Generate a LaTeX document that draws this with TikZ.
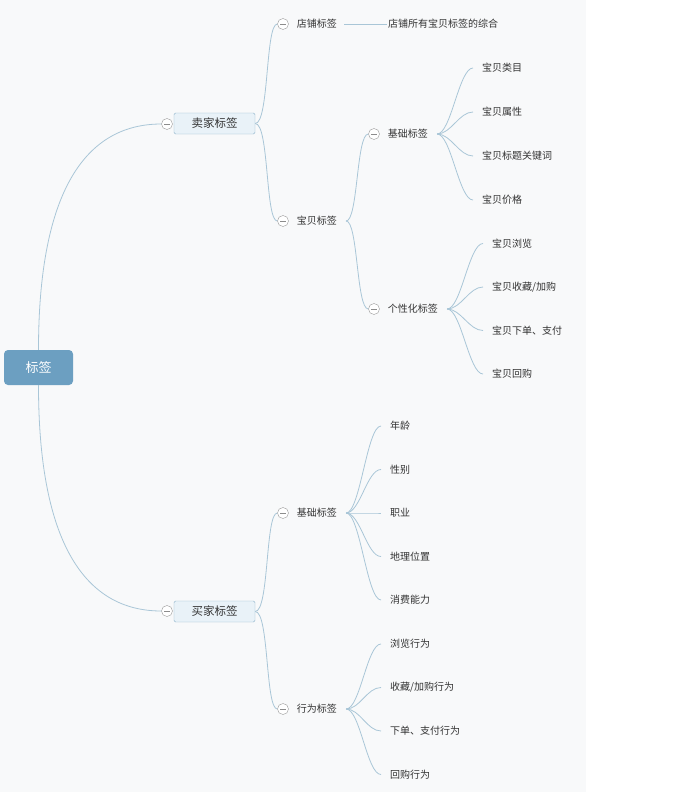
\documentclass[tikz,border=0pt]{standalone}
\usepackage{fontspec}
\setmainfont{Noto Sans CJK SC}
\usetikzlibrary{positioning}
\definecolor{linec}{HTML}{A9C6D7}
\definecolor{rootc}{HTML}{6C9FC1}
\definecolor{boxc}{HTML}{E9F2F8}
\definecolor{boxb}{HTML}{8FB4CB}
\definecolor{txtc}{HTML}{333333}
\definecolor{bgc}{HTML}{F8F9FA}

\begin{document}
\begin{tikzpicture}[x=1pt, y=-1pt,
    root/.style={fill=rootc, rounded corners=4pt, text=white, minimum width=69pt, minimum height=35pt, font=\fontsize{13}{15}\selectfont},
    main/.style={draw=boxb, fill=boxc, rounded corners=1.5pt, minimum width=81pt, minimum height=21pt, text=txtc, font=\fontsize{11.5}{13}\selectfont},
    sub/.style={text=txtc, anchor=west, inner sep=1pt, font=\fontsize{10}{12}\selectfont},
    leaf/.style={sub},
    fold/.style={draw=gray!80, fill=white, circle, minimum size=11pt, inner sep=0pt,
        path picture={\draw[gray!90] ([xshift=-3pt]path picture bounding box.center) -- ([xshift=3pt]path picture bounding box.center);}},
    link/.style={draw=linec, line width=0.8pt}
]
\fill[bgc] (0,0) rectangle (586,792);
\useasboundingbox (0,0) rectangle (686,792);

\node[root] (tag) at (38.5,367.5) {标签};
\node[main] (seller) at (214.5,123.5) {卖家标签};
\node[fold] (sellerc) at (167,124) {};
\node[main] (buyer) at (214.5,611.5) {买家标签};
\node[fold] (buyerc) at (167,611) {};

\draw[link] (tag.north) .. controls +(0,-160) and +(-75,0) .. (sellerc.west);
\draw[link] (tag.south) .. controls +(0,160) and +(-75,0) .. (buyerc.west);

% seller side
\node[fold] (shopc) at (283,24) {};
\node[sub, right=7pt of shopc] (shop) {店铺标签};
\node[sub] (shopdesc) at (387,24) {店铺所有宝贝标签的综合};
\draw[link] ([xshift=6pt]shop.east) -- (shopdesc.west);

\node[fold] (itemc) at (283,221) {};
\node[sub, right=7pt of itemc] (item) {宝贝标签};
\coordinate (itemb) at ([xshift=8pt]item.east);

\draw[link] (seller.east) .. controls +(14,0) and +(-12,0) .. (shopc.west);
\draw[link] (seller.east) .. controls +(14,0) and +(-12,0) .. (itemc.west);

\node[fold] (ibasec) at (374,134) {};
\node[sub, right=7pt of ibasec] (ibase) {基础标签};
\node[fold] (iperc) at (374,309) {};
\node[sub, right=7pt of iperc] (iper) {个性化标签};
\coordinate (ibaseb) at ([xshift=8pt]ibase.east);
\coordinate (iperb) at ([xshift=8pt]iper.east);

\draw[link] (itemb) .. controls +(12,0) and +(-12,0) .. (ibasec.west);
\draw[link] (itemb) .. controls +(12,0) and +(-12,0) .. (iperc.west);

\foreach \t [count=\i] in {宝贝类目,宝贝属性,宝贝标题关键词,宝贝价格} {
    \node[leaf] (ib\i) at (481,24+44*\i) {\t};
    \draw[link] (ibaseb) .. controls +(14,0) and +(-14,0) .. ([xshift=-8pt]ib\i.west);
}
\foreach \t [count=\i] in {宝贝浏览,宝贝收藏/加购,宝贝下单、支付,宝贝回购} {
    \node[leaf] (ip\i) at (491,200+43.5*\i) {\t};
    \draw[link] (iperb) .. controls +(14,0) and +(-14,0) .. ([xshift=-8pt]ip\i.west);
}

% buyer side
\node[fold] (bbasec) at (283,513) {};
\node[sub, right=7pt of bbasec] (bbase) {基础标签};
\node[fold] (bactc) at (283,709) {};
\node[sub, right=7pt of bactc] (bact) {行为标签};
\coordinate (bbaseb) at ([xshift=8pt]bbase.east);
\coordinate (bactb) at ([xshift=8pt]bact.east);

\draw[link] (buyer.east) .. controls +(14,0) and +(-12,0) .. (bbasec.west);
\draw[link] (buyer.east) .. controls +(14,0) and +(-12,0) .. (bactc.west);

\foreach \t [count=\i] in {年龄,性别,职业,地理位置,消费能力} {
    \node[leaf] (bb\i) at (389,382.5+43.5*\i) {\t};
    \draw[link] (bbaseb) .. controls +(14,0) and +(-14,0) .. ([xshift=-8pt]bb\i.west);
}
\foreach \t [count=\i] in {浏览行为,收藏/加购行为,下单、支付行为,回购行为} {
    \node[leaf] (ba\i) at (389,600.5+43.5*\i) {\t};
    \draw[link] (bactb) .. controls +(14,0) and +(-14,0) .. ([xshift=-8pt]ba\i.west);
}
\end{tikzpicture}
\end{document}
